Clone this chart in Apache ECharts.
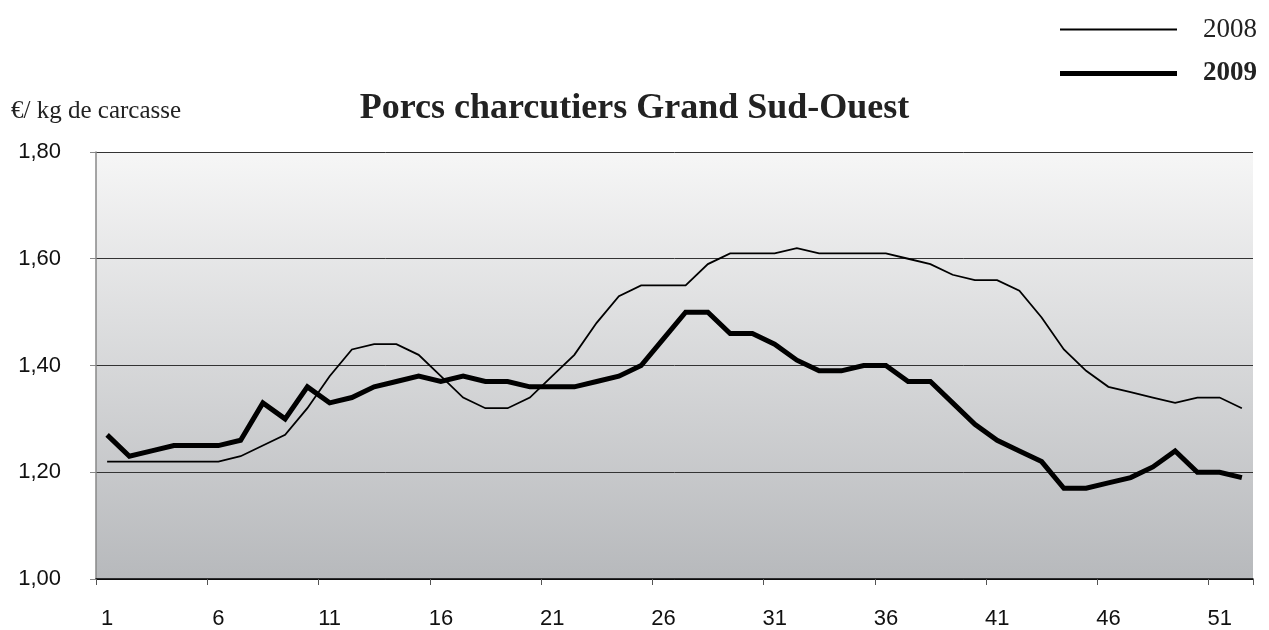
<!DOCTYPE html>
<html>
<head>
<meta charset="utf-8">
<script src="https://cdn.jsdelivr.net/npm/echarts@6/dist/echarts.min.js"></script>
<style>
html,body{margin:0;padding:0;background:#fff;}
#chart{width:1269px;height:630px;}
</style>
</head>
<body>
<div id="chart"></div>
<script>
const weeks = Array.from({length: 52}, (_, i) => String(i + 1));
const values2008 = [1.22,1.22,1.22,1.22,1.22,1.22,1.23,1.25,1.27,1.32,
  1.38,1.43,1.44,1.44,1.42,1.38,1.34,1.32,1.32,1.34,
  1.38,1.42,1.48,1.53,1.55,1.55,1.55,1.59,1.61,1.61,
  1.61,1.62,1.61,1.61,1.61,1.61,1.60,1.59,1.57,1.56,
  1.56,1.54,1.49,1.43,1.39,1.36,1.35,1.34,1.33,1.34,1.34,1.32];
const values2009 = [1.27,1.23,1.24,1.25,1.25,1.25,1.26,1.33,1.30,1.36,
  1.33,1.34,1.36,1.37,1.38,1.37,1.38,1.37,1.37,1.36,
  1.36,1.36,1.37,1.38,1.40,1.45,1.50,1.50,1.46,1.46,
  1.44,1.41,1.39,1.39,1.40,1.40,1.37,1.37,1.33,1.29,
  1.26,1.24,1.22,1.17,1.17,1.18,1.19,1.21,1.24,1.20,1.20,1.19];
const titleText = 'Porcs charcutiers Grand Sud-Ouest';
const unitText = '€/ kg de carcasse';
const seriesNames = ['2008', '2009'];

const legendText = {fontFamily: 'Liberation Serif', fontSize: 27, color: '#222', padding: [0, 0, 0, 21]};

const chart = echarts.init(document.getElementById('chart'), null, {renderer: 'canvas'});
chart.setOption({
  animation: false,
  backgroundColor: '#ffffff',
  title: [
    {text: titleText, left: 'center', top: 86,
     textStyle: {fontFamily: 'Liberation Serif', fontWeight: 'bold', fontSize: 36, color: '#222'}},
    {text: unitText, left: 6, top: 94,
     textStyle: {fontFamily: 'Liberation Serif', fontWeight: 'normal', fontSize: 25, color: '#222'}}
  ],
  legend: [
    {orient: 'vertical', right: 7, top: 11, itemWidth: 117, itemHeight: 2, icon: 'rect',
     data: [{name: seriesNames[0]}],
     textStyle: Object.assign({}, legendText, {fontWeight: 'normal'})},
    {orient: 'vertical', right: 7, top: 55, itemWidth: 117, itemHeight: 5, icon: 'rect',
     data: [{name: seriesNames[1]}],
     textStyle: Object.assign({}, legendText, {fontWeight: 'bold'})}
  ],
  grid: {left: 96, right: 16, top: 152, bottom: 49, containLabel: false,
    show: true, borderWidth: 0,
    backgroundColor: new echarts.graphic.LinearGradient(0, 0, 0, 1, [
      {offset: 0, color: '#f6f6f6'}, {offset: 1, color: '#b7b9bc'}])},
  xAxis: {
    type: 'category', data: weeks, boundaryGap: true,
    axisLine: {lineStyle: {color: '#000', width: 1.5}},
    axisTick: {show: true, interval: 4, length: 6, lineStyle: {color: '#555'}},
    axisLabel: {interval: 4, margin: 29, fontFamily: 'Liberation Sans', fontSize: 22, color: '#111'},
    splitLine: {show: false}
  },
  yAxis: {
    type: 'value', min: 1.0, max: 1.8, interval: 0.2,
    axisLine: {show: true, lineStyle: {color: '#888', width: 1.5}},
    axisTick: {show: true, length: 6, lineStyle: {color: '#888'}},
    axisLabel: {margin: 35, fontFamily: 'Liberation Sans', fontSize: 22, color: '#111',
      formatter: v => v.toFixed(2).replace('.', ',')},
    splitLine: {show: true, lineStyle: {color: '#333', width: 1}}
  },
  series: [
    {name: seriesNames[0], type: 'line', data: values2008, symbol: 'none',
     lineStyle: {color: '#000', width: 1.8, join: 'miter'}, itemStyle: {color: '#000'}},
    {name: seriesNames[1], type: 'line', data: values2009, symbol: 'none',
     lineStyle: {color: '#000', width: 5, join: 'miter'}, itemStyle: {color: '#000'}}
  ]
});
</script>
</body>
</html>
